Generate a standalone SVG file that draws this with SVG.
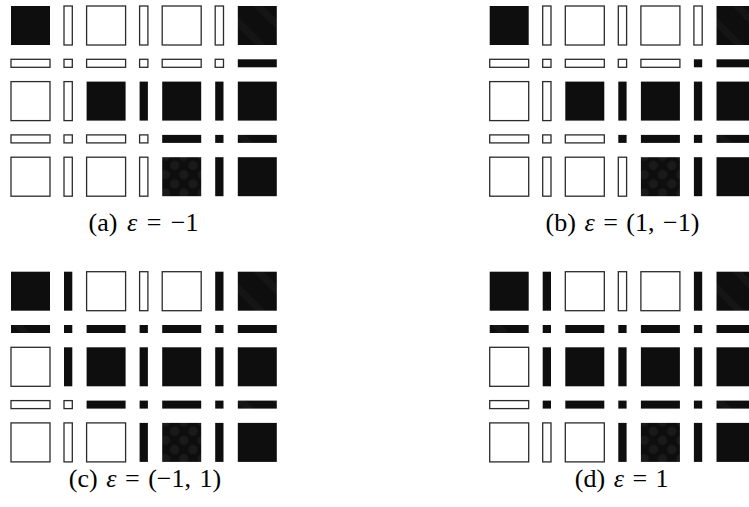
<svg xmlns="http://www.w3.org/2000/svg" width="749" height="507" viewBox="0 0 749 507">
<defs>
<style>
.w{fill:#fff;stroke:#2b2b2b;stroke-width:1.3}
.b{fill:#0e0e0e}
.t{fill:url(#tex)}
.c{fill:url(#chk)}
.lbl{font-family:"Liberation Serif","Times New Roman",serif;font-size:26px;fill:#000;text-anchor:middle;word-spacing:2px}
.it{font-style:italic}
</style>
<pattern id="chk" width="13" height="13" patternUnits="userSpaceOnUse" patternTransform="rotate(45)">
<rect width="13" height="13" fill="#0e0e0e"/>
<circle cx="6.5" cy="6.5" r="4.5" fill="#1a1a1a"/>
</pattern>
<pattern id="tex" width="26" height="26" patternUnits="userSpaceOnUse" patternTransform="rotate(45)">
<rect width="26" height="26" fill="#0e0e0e"/>
<rect width="26" height="7" fill="#151515"/>
</pattern>
</defs>

<g id="panel-a">
<rect class="b" x="11" y="6" width="39" height="39"/>
<rect class="w" x="64" y="6" width="8.3" height="39"/>
<rect class="w" x="86.6" y="6" width="39" height="39"/>
<rect class="w" x="139.6" y="6" width="8.3" height="39"/>
<rect class="w" x="162.2" y="6" width="39" height="39"/>
<rect class="w" x="215.2" y="6" width="8.3" height="39"/>
<rect class="t" x="237.8" y="6" width="39" height="39"/>

<rect class="w" x="11" y="59.3" width="39" height="8"/>
<rect class="w" x="64" y="59.3" width="8.3" height="8"/>
<rect class="w" x="86.6" y="59.3" width="39" height="8"/>
<rect class="w" x="139.6" y="59.3" width="8.3" height="8"/>
<rect class="w" x="162.2" y="59.3" width="39" height="8"/>
<rect class="w" x="215.2" y="59.3" width="8.3" height="8"/>
<rect class="b" x="237.8" y="59.3" width="39" height="8"/>

<rect class="w" x="11" y="81.6" width="39" height="39"/>
<rect class="w" x="64" y="81.6" width="8.3" height="39"/>
<rect class="b" x="86.6" y="81.6" width="39" height="39"/>
<rect class="b" x="139.6" y="81.6" width="8.3" height="39"/>
<rect class="b" x="162.2" y="81.6" width="39" height="39"/>
<rect class="b" x="215.2" y="81.6" width="8.3" height="39"/>
<rect class="b" x="237.8" y="81.6" width="39" height="39"/>

<rect class="w" x="11" y="134.9" width="39" height="8"/>
<rect class="w" x="64" y="134.9" width="8.3" height="8"/>
<rect class="w" x="86.6" y="134.9" width="39" height="8"/>
<rect class="w" x="139.6" y="134.9" width="8.3" height="8"/>
<rect class="b" x="162.2" y="134.9" width="39" height="8"/>
<rect class="b" x="215.2" y="134.9" width="8.3" height="8"/>
<rect class="t" x="237.8" y="134.9" width="39" height="8"/>

<rect class="w" x="11" y="157.2" width="39" height="39"/>
<rect class="w" x="64" y="157.2" width="8.3" height="39"/>
<rect class="w" x="86.6" y="157.2" width="39" height="39"/>
<rect class="w" x="139.6" y="157.2" width="8.3" height="39"/>
<rect class="c" x="162.2" y="157.2" width="39" height="39"/>
<rect class="b" x="215.2" y="157.2" width="8.3" height="39"/>
<rect class="b" x="237.8" y="157.2" width="39" height="39"/>

<text class="lbl" x="143.5" y="231" style="word-spacing:3px">(a) <tspan class="it">ε</tspan> = −1</text>
</g>

<g id="panel-b" transform="translate(478.7,0)">
<rect class="b" x="11" y="6" width="39" height="39"/>
<rect class="w" x="64" y="6" width="8.3" height="39"/>
<rect class="w" x="86.6" y="6" width="39" height="39"/>
<rect class="w" x="139.6" y="6" width="8.3" height="39"/>
<rect class="w" x="162.2" y="6" width="39" height="39"/>
<rect class="w" x="215.2" y="6" width="8.3" height="39"/>
<rect class="t" x="237.8" y="6" width="39" height="39"/>

<rect class="w" x="11" y="59.3" width="39" height="8"/>
<rect class="w" x="64" y="59.3" width="8.3" height="8"/>
<rect class="w" x="86.6" y="59.3" width="39" height="8"/>
<rect class="w" x="139.6" y="59.3" width="8.3" height="8"/>
<rect class="w" x="162.2" y="59.3" width="39" height="8"/>
<rect class="b" x="215.2" y="59.3" width="8.3" height="8"/>
<rect class="b" x="237.8" y="59.3" width="39" height="8"/>

<rect class="w" x="11" y="81.6" width="39" height="39"/>
<rect class="w" x="64" y="81.6" width="8.3" height="39"/>
<rect class="b" x="86.6" y="81.6" width="39" height="39"/>
<rect class="b" x="139.6" y="81.6" width="8.3" height="39"/>
<rect class="b" x="162.2" y="81.6" width="39" height="39"/>
<rect class="b" x="215.2" y="81.6" width="8.3" height="39"/>
<rect class="b" x="237.8" y="81.6" width="39" height="39"/>

<rect class="w" x="11" y="134.9" width="39" height="8"/>
<rect class="w" x="64" y="134.9" width="8.3" height="8"/>
<rect class="w" x="86.6" y="134.9" width="39" height="8"/>
<rect class="b" x="139.6" y="134.9" width="8.3" height="8"/>
<rect class="b" x="162.2" y="134.9" width="39" height="8"/>
<rect class="b" x="215.2" y="134.9" width="8.3" height="8"/>
<rect class="t" x="237.8" y="134.9" width="39" height="8"/>

<rect class="w" x="11" y="157.2" width="39" height="39"/>
<rect class="w" x="64" y="157.2" width="8.3" height="39"/>
<rect class="w" x="86.6" y="157.2" width="39" height="39"/>
<rect class="w" x="139.6" y="157.2" width="8.3" height="39"/>
<rect class="c" x="162.2" y="157.2" width="39" height="39"/>
<rect class="b" x="215.2" y="157.2" width="8.3" height="39"/>
<rect class="b" x="237.8" y="157.2" width="39" height="39"/>

<text class="lbl" x="143.8" y="231">(b) <tspan class="it">ε</tspan> = (1, −1)</text>
</g>

<g id="panel-c" transform="translate(0,265.7)">
<rect class="b" x="11" y="6" width="39" height="39"/>
<rect class="b" x="64" y="6" width="8.3" height="39"/>
<rect class="w" x="86.6" y="6" width="39" height="39"/>
<rect class="w" x="139.6" y="6" width="8.3" height="39"/>
<rect class="w" x="162.2" y="6" width="39" height="39"/>
<rect class="b" x="215.2" y="6" width="8.3" height="39"/>
<rect class="t" x="237.8" y="6" width="39" height="39"/>

<rect class="t" x="11" y="59.3" width="39" height="8"/>
<rect class="b" x="64" y="59.3" width="8.3" height="8"/>
<rect class="b" x="86.6" y="59.3" width="39" height="8"/>
<rect class="b" x="139.6" y="59.3" width="8.3" height="8"/>
<rect class="b" x="162.2" y="59.3" width="39" height="8"/>
<rect class="b" x="215.2" y="59.3" width="8.3" height="8"/>
<rect class="b" x="237.8" y="59.3" width="39" height="8"/>

<rect class="w" x="11" y="81.6" width="39" height="39"/>
<rect class="b" x="64" y="81.6" width="8.3" height="39"/>
<rect class="b" x="86.6" y="81.6" width="39" height="39"/>
<rect class="b" x="139.6" y="81.6" width="8.3" height="39"/>
<rect class="b" x="162.2" y="81.6" width="39" height="39"/>
<rect class="b" x="215.2" y="81.6" width="8.3" height="39"/>
<rect class="b" x="237.8" y="81.6" width="39" height="39"/>

<rect class="w" x="11" y="134.9" width="39" height="8"/>
<rect class="w" x="64" y="134.9" width="8.3" height="8"/>
<rect class="b" x="86.6" y="134.9" width="39" height="8"/>
<rect class="b" x="139.6" y="134.9" width="8.3" height="8"/>
<rect class="b" x="162.2" y="134.9" width="39" height="8"/>
<rect class="b" x="215.2" y="134.9" width="8.3" height="8"/>
<rect class="t" x="237.8" y="134.9" width="39" height="8"/>

<rect class="w" x="11" y="157.2" width="39" height="39"/>
<rect class="w" x="64" y="157.2" width="8.3" height="39"/>
<rect class="w" x="86.6" y="157.2" width="39" height="39"/>
<rect class="b" x="139.6" y="157.2" width="8.3" height="39"/>
<rect class="c" x="162.2" y="157.2" width="39" height="39"/>
<rect class="b" x="215.2" y="157.2" width="8.3" height="39"/>
<rect class="b" x="237.8" y="157.2" width="39" height="39"/>

<text class="lbl" x="145" y="221.3">(c) <tspan class="it">ε</tspan> = (−1, 1)</text>
</g>

<g id="panel-d" transform="translate(478.7,265.7)">
<rect class="b" x="11" y="6" width="39" height="39"/>
<rect class="b" x="64" y="6" width="8.3" height="39"/>
<rect class="w" x="86.6" y="6" width="39" height="39"/>
<rect class="w" x="139.6" y="6" width="8.3" height="39"/>
<rect class="w" x="162.2" y="6" width="39" height="39"/>
<rect class="b" x="215.2" y="6" width="8.3" height="39"/>
<rect class="t" x="237.8" y="6" width="39" height="39"/>

<rect class="t" x="11" y="59.3" width="39" height="8"/>
<rect class="b" x="64" y="59.3" width="8.3" height="8"/>
<rect class="b" x="86.6" y="59.3" width="39" height="8"/>
<rect class="b" x="139.6" y="59.3" width="8.3" height="8"/>
<rect class="b" x="162.2" y="59.3" width="39" height="8"/>
<rect class="b" x="215.2" y="59.3" width="8.3" height="8"/>
<rect class="b" x="237.8" y="59.3" width="39" height="8"/>

<rect class="w" x="11" y="81.6" width="39" height="39"/>
<rect class="b" x="64" y="81.6" width="8.3" height="39"/>
<rect class="b" x="86.6" y="81.6" width="39" height="39"/>
<rect class="b" x="139.6" y="81.6" width="8.3" height="39"/>
<rect class="b" x="162.2" y="81.6" width="39" height="39"/>
<rect class="b" x="215.2" y="81.6" width="8.3" height="39"/>
<rect class="b" x="237.8" y="81.6" width="39" height="39"/>

<rect class="w" x="11" y="134.9" width="39" height="8"/>
<rect class="b" x="64" y="134.9" width="8.3" height="8"/>
<rect class="b" x="86.6" y="134.9" width="39" height="8"/>
<rect class="b" x="139.6" y="134.9" width="8.3" height="8"/>
<rect class="b" x="162.2" y="134.9" width="39" height="8"/>
<rect class="b" x="215.2" y="134.9" width="8.3" height="8"/>
<rect class="t" x="237.8" y="134.9" width="39" height="8"/>

<rect class="w" x="11" y="157.2" width="39" height="39"/>
<rect class="w" x="64" y="157.2" width="8.3" height="39"/>
<rect class="w" x="86.6" y="157.2" width="39" height="39"/>
<rect class="b" x="139.6" y="157.2" width="8.3" height="39"/>
<rect class="c" x="162.2" y="157.2" width="39" height="39"/>
<rect class="b" x="215.2" y="157.2" width="8.3" height="39"/>
<rect class="b" x="237.8" y="157.2" width="39" height="39"/>

<text class="lbl" x="143" y="221.3">(d) <tspan class="it">ε</tspan> = 1</text>
</g>
</svg>
